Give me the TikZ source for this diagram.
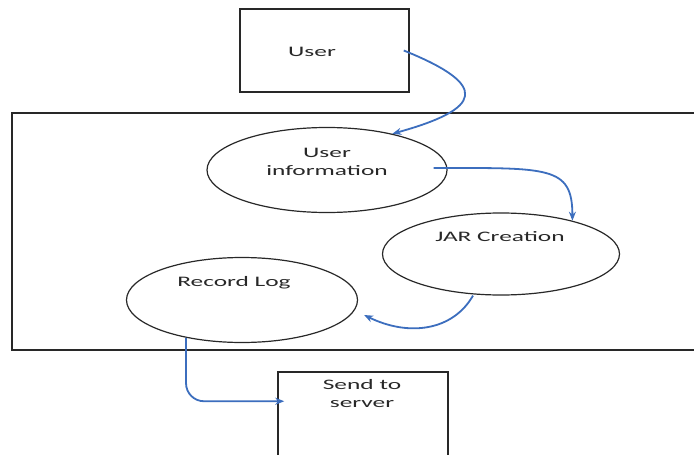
\documentclass[tikz,border=0pt]{standalone}
\usepackage{fontspec}
\setmainfont{Carlito}[FakeStretch=1.75]
\usetikzlibrary{shapes.geometric,arrows.meta}
\definecolor{flow}{RGB}{60,110,190}
\definecolor{ink}{RGB}{40,40,40}
\begin{document}
\begin{tikzpicture}[x=1pt,y=-1pt,
  box/.style={draw=ink,line width=1.5pt,rectangle,inner sep=0pt},
  bubble/.style={draw=ink,line width=1.2pt,ellipse,inner sep=0pt},
  lbl/.style={text=ink,font=\fontsize{14.5}{18}\selectfont,align=center,inner sep=0pt},
  flowline/.style={draw=flow,line width=1.8pt,-{Stealth[length=9pt,width=7pt]}}]
\useasboundingbox (0,0) rectangle (694,455);
\fill[white] (0,0) rectangle (694,455);
% container
\draw[ink,line width=1.3pt] (694,113) -- (12,113) -- (12,350) -- (694,350);
% nodes
\node[box,minimum width=169pt,minimum height=83pt] (user) at (324.5,50.5) {};
\node[bubble,minimum width=240pt,minimum height=85pt] (uinfo) at (327,170) {};
\node[bubble,minimum width=237pt,minimum height=82pt] (jar) at (501,254) {};
\node[bubble,minimum width=231pt,minimum height=85pt] (rlog) at (242,300) {};
\node[box,minimum width=170pt,minimum height=95pt] (send) at (363,419.5) {};
% labels
\node[lbl] (t1) at (312,52) {User};
\node[lbl] (t2) at (327,162) {User\\information};
\node[lbl] (t3) at (500,237) {JAR Creation};
\node[lbl] (t4) at (234,283) {Record Log};
\node[lbl] (t5) at (362,394) {Send to\\server};
% connectors
\draw[flowline] ([xshift=-6pt]user.east) .. controls +(87,35) and +(90,-25) .. (uinfo.29);
\draw[flowline] ([shift={(-14,-2)}]uinfo.east) .. controls +(115,0) and +(0,-55) .. (jar.25);
\draw[flowline] ([xshift=-28pt]jar.south) .. controls +(-20,35) and +(45,22) .. ([shift={(6,15)}]rlog.east);
\draw[flowline,rounded corners=18pt] (rlog.-146) |- ([shift={(7,30)}]send.north west);
\end{tikzpicture}
\end{document}
